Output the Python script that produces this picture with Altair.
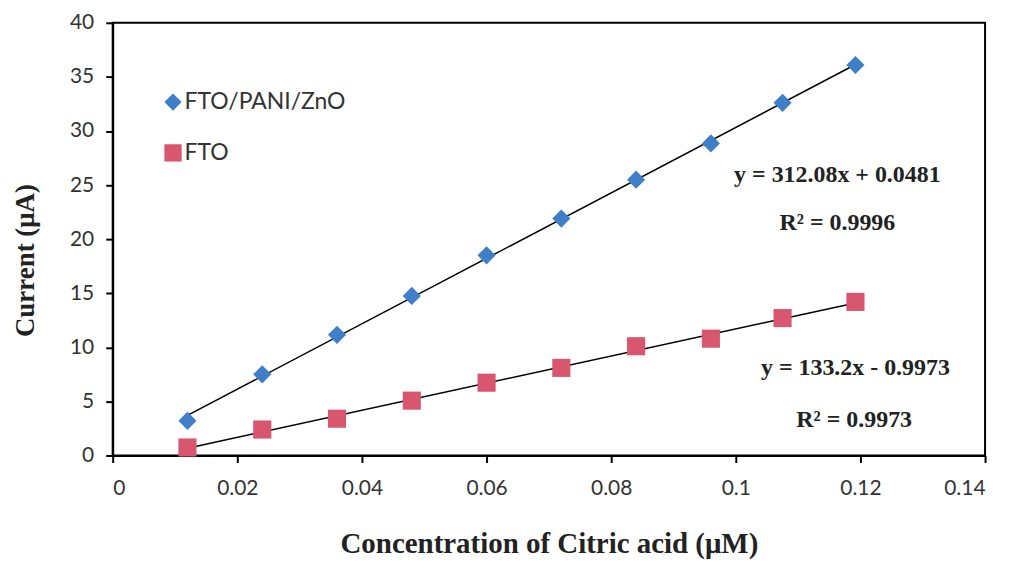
import altair as alt
import pandas as pd

# ---- data ----
conc = [0.012, 0.024, 0.036, 0.048, 0.060, 0.072, 0.084, 0.096, 0.1075, 0.1192]
current_pani = [3.2, 7.5, 11.15, 14.75, 18.5, 21.9, 25.5, 28.85, 32.6, 36.1]
current_fto = [0.74, 2.4, 3.4, 5.07, 6.73, 8.1, 10.1, 10.8, 12.7, 14.2]
series_names = ["FTO/PANI/ZnO", "FTO"]
x_ticks = [0, 0.02, 0.04, 0.06, 0.08, 0.1, 0.12, 0.14]
y_ticks = [0, 5, 10, 15, 20, 25, 30, 35, 40]
eq_pani = ["y = 312.08x + 0.0481", "R² = 0.9996"]
eq_fto = ["y = 133.2x - 0.9973", "R² = 0.9973"]

df = pd.DataFrame({
    "x": conc + conc,
    "y": current_pani + current_fto,
    "series": [series_names[0]] * len(conc) + [series_names[1]] * len(conc),
})

BLUE = "#3F7FC8"
PINK = "#D9566F"
SANS = "Lato"
SERIF = "Liberation Serif"

xs = alt.Scale(domain=[0, 0.14], nice=False, zero=False)
ys = alt.Scale(domain=[0, 40], nice=False)

x_enc = alt.X("x:Q", scale=xs, axis=alt.Axis(
    values=x_ticks, title="Concentration of Citric acid (μM)",
    labelExpr="datum.value == 0 ? '0' : format(datum.value, '~g')",
    labelFont=SANS, labelFontSize=21, labelColor="#333333", labelPadding=15,
    tickSize=7, tickWidth=2, tickColor="black", domainColor="black", domainWidth=2,
    grid=False, titleFont=SERIF, titleFontSize=29, titleFontWeight="bold",
    titleColor="#222222", titleY=88, titleBaseline="middle"))
y_enc = alt.Y("y:Q", scale=ys, axis=alt.Axis(
    values=y_ticks, title="Current (μA)",
    labelFont=SANS, labelFontSize=21, labelColor="#333333", labelPadding=12,
    tickSize=7, tickWidth=2, tickColor="black", domainColor="black", domainWidth=2,
    grid=False, titleFont=SERIF, titleFontSize=27, titleFontWeight="bold",
    titleColor="#222222", titleX=-87, titleY=238, titleBaseline="middle"))

points = alt.Chart(df).mark_point(filled=True, opacity=1, size=330).encode(
    x=x_enc, y=y_enc,
    color=alt.Color("series:N", scale=alt.Scale(domain=series_names, range=[BLUE, PINK]),
                    legend=alt.Legend(title=None, orient="none", legendX=49, legendY=68,
                                      labelFont=SANS, labelFontSize=23, labelColor="#333333",
                                      labelLimit=400,
                                      symbolSize=300, rowPadding=27, labelOffset=0,
                                      padding=0, symbolStrokeWidth=0)),
    shape=alt.Shape("series:N", scale=alt.Scale(domain=series_names, range=["diamond", "square"]),
                    legend=None),
)

fits = alt.Chart(df).transform_regression("x", "y", groupby=["series"]).mark_line(
    color="black", strokeWidth=1.5).encode(x="x:Q", y="y:Q", detail="series:N")

def label(txt, xv, yv):
    return alt.Chart().mark_text(font=SERIF, fontSize=24, fontWeight="bold",
                                 color="#222222", text=txt).encode(
        x=alt.datum(xv, scale=xs), y=alt.datum(yv, scale=ys))

texts = (label(eq_pani[0], 0.1163, 25.9) + label(eq_pani[1], 0.1163, 21.5) +
         label(eq_fto[0], 0.1192, 8.1) + label(eq_fto[1], 0.1190, 3.3))

chart = alt.layer(fits, points, texts).properties(
    width=875, height=434,
    autosize=alt.AutoSizeParams(type="none"),
    padding={"left": 105, "top": 14, "right": 20, "bottom": 106},
).configure_view(stroke="black", strokeWidth=2)

chart.save("out.html", embed_options={"renderer": "svg", "actions": False})
